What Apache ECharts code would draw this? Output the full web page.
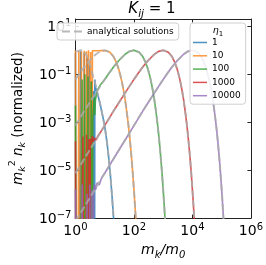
<!DOCTYPE html>
<html><head><meta charset="utf-8">
<script src="https://cdn.jsdelivr.net/npm/echarts@6/dist/echarts.min.js"></script>
<style>html,body{margin:0;padding:0;background:#fff}#c{width:266px;height:265px}</style>
</head><body><div id="c"></div>
<script>
// tick exponents
const xTickExps = [0, 2, 4, 6];
const yTickExps = [-7, -5, -3, -1, 1];
const etaLabels = ['1', '10', '100', '1000', '10000'];
const LOW = 1e-30;

// analytical solutions [m_k/m_0, m_k^2 n_k]
const anaBlue = [[1,0.85],[1.5,1.0],[2,0.85],[2.5,0.55],[3,0.3],[3.5,0.16],[4,0.08],[4.5,0.05],[5,0.033],[6,0.012],[7,5.6e-3],[8,2.6e-3],[9,1.3e-3],[10,6.9e-4],[12,1.4e-4],[14,2.6e-5],[16,4.5e-6],[18,7e-7],[20,1.1e-7],[21,4e-8]];
const anaOrange = [[1,0.0605],[1.5,0.123],[2,0.198],[3,0.365],[5,0.68],[7,0.893],[10,1],[15,0.828],[20,0.541],[25,0.311],[30,0.165],[35,0.0825],[40,0.0397],[45,0.0185],[50,8.4e-3],[55,3.7e-3],[60,1.6e-3],[65,7.1e-4],[70,3.0e-4],[75,1.27e-4],[80,5.3e-5],[85,2.2e-5],[90,9.1e-6],[95,3.7e-6],[100,1.5e-6],[105,6.2e-7],[110,2.5e-7],[115,1.0e-7],[120,4e-8]];
const anaGreen = [[1,7.2e-4],[2,2.9e-3],[3,6.3e-3],[5,0.0167],[10,0.0605],[15,0.123],[20,0.198],[30,0.365],[50,0.68],[70,0.893],[100,1],[150,0.828],[200,0.541],[250,0.311],[300,0.165],[350,0.0825],[400,0.0397],[450,0.0185],[500,8.4e-3],[550,3.7e-3],[600,1.6e-3],[650,7.1e-4],[700,3.0e-4],[750,1.27e-4],[800,5.3e-5],[850,2.2e-5],[900,9.1e-6],[950,3.7e-6],[1000,1.5e-6],[1050,6.2e-7],[1100,2.5e-7],[1150,1e-7],[1200,4e-8]];
const anaRed = [[1,7.4e-6],[3,6.6e-5],[10,7.2e-4],[20,2.9e-3],[30,6.3e-3],[50,0.0167],[100,0.0605],[150,0.123],[200,0.198],[300,0.365],[500,0.68],[700,0.893],[1000,1],[1500,0.828],[2000,0.541],[2500,0.311],[3000,0.165],[3500,0.0825],[4000,0.0397],[4500,0.0185],[5000,8.4e-3],[5500,3.7e-3],[6000,1.6e-3],[6500,7.1e-4],[7000,3.0e-4],[7500,1.27e-4],[8000,5.3e-5],[8500,2.2e-5],[9000,9.1e-6],[9500,3.7e-6],[10000,1.5e-6],[10500,6.2e-7],[11000,2.5e-7],[11500,1e-7],[12000,4e-8]];
const anaPurple = [[1,7.4e-8],[3,6.6e-7],[10,7.4e-6],[30,6.6e-5],[100,7.2e-4],[200,2.9e-3],[300,6.3e-3],[500,0.0167],[1000,0.0605],[1500,0.123],[2000,0.198],[3000,0.365],[5000,0.68],[7000,0.893],[10000,1],[15000,0.828],[20000,0.541],[25000,0.311],[30000,0.165],[35000,0.0825],[40000,0.0397],[45000,0.0185],[50000,8.4e-3],[55000,3.7e-3],[60000,1.6e-3],[65000,7.1e-4],[70000,3.0e-4],[75000,1.27e-4],[80000,5.3e-5],[85000,2.2e-5],[90000,9.1e-6],[95000,3.7e-6],[100000,1.5e-6],[105000,6.2e-7],[110000,2.5e-7],[115000,1e-7],[120000,4e-8]];

// simulated: noisy low-mass heads (LOW = empty bin, below the axis)
const headBlue = [[1,0.75],[1.1,LOW],[1.5,0.9],[1.6,LOW],[2,0.8],[2.15,LOW],[2.5,0.5],[2.65,LOW],[3,0.25],[3.2,LOW],[3.6,0.05],[3.8,LOW],[4.1,0.02],[4.3,LOW],[4.6,0.06],[4.8,0.03]];
const headOrange = [[1,1.0],[1.12,LOW],[1.3,0.95],[1.42,LOW],[1.6,0.9],[1.72,LOW],[2,0.95],[2.15,LOW],[2.4,0.9],[2.55,LOW],[2.8,1.0],[3.0,LOW],[3.3,0.85],[3.5,LOW],[3.8,0.95],[4.2,0.8],[4.6,0.95],[5.2,0.85],[6,0.95],[7,0.88],[8,0.97],[9,0.9],[10,0.95],[12,0.92],[14,0.85]];
const headGreen = [[1,5e-3],[1.12,LOW],[1.7,0.06],[1.85,LOW],[2.1,0.1],[2.25,LOW],[2.7,0.08],[2.85,LOW],[3.45,0.05],[3.6,LOW],[3.9,1.2e-3],[4.2,5e-3],[4.4,0.011],[4.6,2e-3],[4.8,8e-3],[5.5,0.02],[7,0.035]];
const headRed = [[1,1.6e-4],[1.12,LOW],[1.8,2.5e-4],[1.95,LOW],[2.4,3e-4],[2.55,LOW],[2.9,2e-4],[3.05,LOW],[3.2,2e-4],[3.5,1.2e-4],[3.8,2.6e-4],[4.1,1.5e-4],[4.5,2.2e-4],[5,1.8e-4],[6,2.8e-4],[7,3.6e-4],[8,4.7e-4]];
const headPurple = [[1,1.6e-6],[1.12,LOW],[1.7,2.5e-6],[1.85,LOW],[2.5,1e-6],[2.65,LOW],[3.1,2.5e-6],[3.25,LOW],[3.7,1.5e-6],[3.85,LOW],[4.2,1.2e-6],[4.5,2.5e-6],[4.9,1.5e-6],[5.5,3e-6],[6.5,2.4e-6],[8,5e-6]];

const colors = ['#1f77b4', '#ff7f0e', '#2ca02c', '#d62728', '#9467bd'];
const anas = [anaBlue, anaOrange, anaGreen, anaRed, anaPurple];
const heads = [headBlue, headOrange, headGreen, headRed, headPurple];
const GRAY = '#ababab';

const FONT = 'DejaVu Sans';
function powLabel(v) {
  const lg = Math.log10(v);
  const e = Math.round(lg);
  if (Math.abs(lg - e) > 1e-6) return '';
  return '{b|10}{s|' + String(e).replace('-', '\u2212') + '}';
}
const tickRich = {
  b: {fontSize: 14, fontFamily: FONT, color: '#000', verticalAlign: 'bottom'},
  s: {fontSize: 10, fontFamily: FONT, color: '#000', verticalAlign: 'bottom', padding: [0,0,6,0]}
};

const series = [];
anas.forEach((a, i) => {
  const head = heads[i];
  const lastK = head[head.length - 1][0];
  series.push({
    name: etaLabels[i], type: 'line', symbol: 'none', showSymbol: false, silent: true,
    data: head.concat(a.filter(p => p[0] > lastK)),
    lineStyle: {color: colors[i], width: 1.6, opacity: 0.8},
    itemStyle: {color: colors[i], opacity: 0.8}
  });
});
anas.forEach((a) => {
  series.push({
    name: 'analytical solutions', type: 'line', symbol: 'none', showSymbol: false, silent: true,
    data: a,
    lineStyle: {color: GRAY, width: 2, type: [7, 3], opacity: 0.8},
    itemStyle: {color: GRAY, opacity: 0.85}
  });
});

const axisCommon = {
  type: 'log', logBase: 10,
  axisLine: {show: true, onZero: false, lineStyle: {color: '#222', width: 1}},
  axisTick: {show: true, inside: true, length: 3.5, lineStyle: {color: '#222', width: 1}},
  splitLine: {show: false}, minorTick: {show: false}
};
const solidIcon = 'path://M0,0H14V1.5H0Z';
const dashIcon = 'path://M0,0H8V2H0Z M12,0H20V2H12Z';

const chart = echarts.init(document.getElementById('c'), null, {renderer: 'canvas'});
chart.setOption({
  animation: false,
  backgroundColor: '#fff',
  grid: {left: 54, right: 15, top: 19, bottom: 33, containLabel: false},
  xAxis: [
    Object.assign({}, axisCommon, {
      position: 'bottom', min: 1, max: 1e6, interval: 2,
      axisLabel: {show: true, margin: 4, fontSize: 14, fontFamily: FONT, color: '#000', formatter: powLabel, rich: tickRich},
      name: '{m|m}{s|k}{m|/m}{s|0}', nameLocation: 'middle', nameGap: 22,
      nameTextStyle: {fontSize: 14, fontFamily: FONT, rich: {
        m: {fontSize: 14, fontFamily: FONT, fontStyle: 'italic', color: '#000', verticalAlign: 'bottom', padding: [0,0,3,0]},
        s: {fontSize: 10, fontFamily: FONT, fontStyle: 'italic', color: '#000', verticalAlign: 'bottom'}
      }}
    }),
    Object.assign({}, axisCommon, {position: 'top', min: 1, max: 1e6, interval: 2, axisLabel: {show: false}})
  ],
  yAxis: [
    Object.assign({}, axisCommon, {
      position: 'left', min: 1e-7, max: 20, interval: 2,
      axisLabel: {show: true, margin: 4, fontSize: 14, fontFamily: FONT, color: '#000', formatter: powLabel, rich: tickRich},
      name: '{m|m}{s|k}{p|2}{m| n}{s|k}{t| (normalized)}', nameLocation: 'middle', nameGap: 39, nameRotate: 90,
      nameTextStyle: {fontSize: 13.5, fontFamily: FONT, rich: {
        m: {fontSize: 13.5, fontFamily: FONT, fontStyle: 'italic', color: '#000', verticalAlign: 'bottom', padding: [0,0,3,0]},
        s: {fontSize: 9.5, fontFamily: FONT, fontStyle: 'italic', color: '#000', verticalAlign: 'bottom'},
        p: {fontSize: 9.5, fontFamily: FONT, color: '#000', verticalAlign: 'bottom', padding: [0,0,10,0]},
        t: {fontSize: 13.5, fontFamily: FONT, color: '#000', verticalAlign: 'bottom', padding: [0,0,3,0]}
      }}
    }),
    Object.assign({}, axisCommon, {position: 'right', min: 1e-7, max: 20, interval: 2, axisLabel: {show: false}})
  ],
  legend: [
    {
      data: [{name: 'analytical solutions', icon: dashIcon}], left: 57, top: 23, orient: 'vertical',
      itemWidth: 20, itemHeight: 10, padding: [4, 5, 4, 5],
      backgroundColor: 'rgba(255,255,255,0.85)', borderColor: '#d0d0d0', borderWidth: 1, borderRadius: 3,
      textStyle: {fontSize: 9, fontFamily: FONT, color: '#000'}
    },
    {
      data: etaLabels.map(n => ({name: n, icon: solidIcon})), left: 190, top: 23, orient: 'vertical',
      itemWidth: 14, itemHeight: 10, itemGap: 4.3, padding: [15, 5, 4, 3],
      backgroundColor: 'rgba(255,255,255,0.85)', borderColor: '#d0d0d0', borderWidth: 1, borderRadius: 3,
      textStyle: {fontSize: 9, fontFamily: FONT, color: '#000'}
    }
  ],
  graphic: [
    {type: 'text', x: 152, y: 11, z: 100, style: {
      text: '{k|K}{s|ij}{n| = 1}', align: 'center', verticalAlign: 'middle',
      rich: {
        k: {fontSize: 15, fontFamily: FONT, fontStyle: 'italic', fill: '#000', color: '#000', verticalAlign: 'bottom', padding: [0,0,3,0]},
        s: {fontSize: 10.5, fontFamily: FONT, fontStyle: 'italic', fill: '#000', color: '#000', verticalAlign: 'bottom'},
        n: {fontSize: 15, fontFamily: FONT, fill: '#000', color: '#000', verticalAlign: 'bottom', padding: [0,0,3,0]}
      }
    }},
    {type: 'text', x: 218, y: 32, z: 100, style: {
      text: '{e|\u03b7}{s|1}', align: 'center', verticalAlign: 'middle',
      rich: {
        e: {fontSize: 9.5, fontFamily: FONT, fontStyle: 'italic', fill: '#000', color: '#000', verticalAlign: 'bottom', padding: [0,0,2,0]},
        s: {fontSize: 7, fontFamily: FONT, fill: '#000', color: '#000', verticalAlign: 'bottom'}
      }
    }}
  ],
  series: series
});
</script></body></html>
